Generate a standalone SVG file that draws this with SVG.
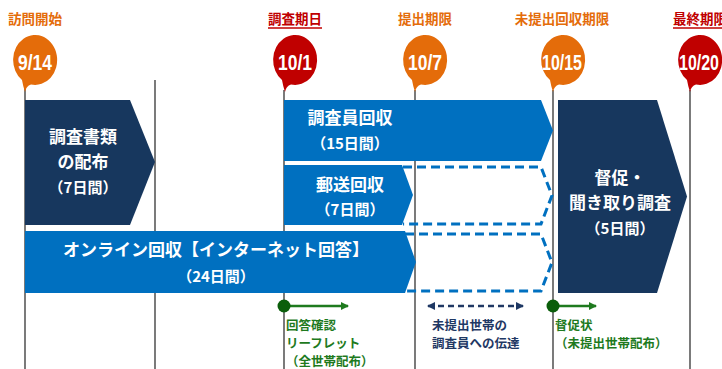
<svg xmlns="http://www.w3.org/2000/svg" width="722" height="369" viewBox="0 0 722 369">
<style>
.jp{font-family:"Noto Sans CJK JP","Noto Sans",sans-serif;font-weight:bold}
.top{font-size:13.5px;text-anchor:middle}
.org{fill:#E46C0A}
.red{fill:#C00000}
.bal{font-family:"Liberation Sans",Arial,sans-serif;font-weight:bold;font-size:22px;fill:#fff;text-anchor:middle}
.wt{fill:#fff;text-anchor:middle}
.big{font-size:17px}
.sm{font-size:15px}
.grn{fill:#1E7A1E;font-size:12.5px}
.nav{fill:#1F3864;font-size:12.5px}
.vline{stroke:#222;stroke-width:1.2}
.navy{fill:#17375E}
.blue{fill:#0070C0}
.dash{fill:none;stroke:#0070C0;stroke-width:3;stroke-dasharray:9 5}
</style>
<defs>
<marker id="ga" markerWidth="8" markerHeight="8" refX="7" refY="4" orient="auto" markerUnits="userSpaceOnUse"><path d="M0,0 L8,4 L0,8 Z" fill="#1E7A1E"/></marker>
<marker id="na" markerWidth="8" markerHeight="8" refX="7" refY="4" orient="auto-start-reverse" markerUnits="userSpaceOnUse"><path d="M0,0 L8,4 L0,8 Z" fill="#1F3864"/></marker>
</defs>

<g id="connectors">
<line class="vline" x1="25" y1="88" x2="25" y2="369"/>
<line class="vline" x1="155" y1="80" x2="155" y2="369"/>
<line class="vline" x1="284" y1="90" x2="284" y2="369"/>
<line class="vline" x1="415" y1="90" x2="415" y2="369"/>
<line class="vline" x1="553" y1="90" x2="553" y2="369"/>
<line class="vline" x1="690" y1="90" x2="690" y2="369"/>
<line x1="284" y1="306" x2="348" y2="306" stroke="#1E7A1E" stroke-width="2.5" marker-end="url(#ga)"/>
<line x1="553" y1="306" x2="596" y2="306" stroke="#1E7A1E" stroke-width="2.5" marker-end="url(#ga)"/>
<line x1="428" y1="306" x2="523" y2="306" stroke="#1F3864" stroke-width="2.5" stroke-dasharray="6 4" marker-start="url(#na)" marker-end="url(#na)"/>
</g>

<g id="m914">
<text class="jp top org" x="35" y="24">訪問開始</text>
<path d="M22,80 A22,25 0 1 1 31,84.5 Q26,86 25,92 Q23,86 22,80 Z" fill="#E46C0A"/>
<text class="bal" x="35" y="70" textLength="34" lengthAdjust="spacingAndGlyphs">9/14</text>
</g>
<g id="m101">
<text class="jp top red" x="295" y="24">調査期日</text>
<line x1="268" y1="28" x2="322" y2="28" stroke="#C00000" stroke-width="1.5"/>
<path d="M282,80 A22,25 0 1 1 291,84.5 Q286,86 285,92 Q283,86 282,80 Z" fill="#C00000"/>
<text class="bal" x="295" y="70" textLength="34" lengthAdjust="spacingAndGlyphs">10/1</text>
</g>
<g id="m107">
<text class="jp top org" x="425" y="24">提出期限</text>
<path d="M412,80 A22,25 0 1 1 421,84.5 Q416,86 415,92 Q413,86 412,80 Z" fill="#E46C0A"/>
<text class="bal" x="425" y="70" textLength="34" lengthAdjust="spacingAndGlyphs">10/7</text>
</g>
<g id="m1015">
<text class="jp top org" x="562" y="24">未提出回収期限</text>
<path d="M550,80 A22,25 0 1 1 559,84.5 Q554,86 553,92 Q551,86 550,80 Z" fill="#E46C0A"/>
<text class="bal" x="562" y="70" textLength="40" lengthAdjust="spacingAndGlyphs">10/15</text>
</g>
<g id="m1020">
<text class="jp top red" x="700" y="24">最終期限</text>
<line x1="673" y1="28" x2="722" y2="28" stroke="#C00000" stroke-width="1.5"/>
<path d="M687,80 A22,25 0 1 1 696,84.5 Q691,86 690,92 Q688,86 687,80 Z" fill="#C00000"/>
<text class="bal" x="699" y="70" textLength="40" lengthAdjust="spacingAndGlyphs">10/20</text>
</g>

<g id="distribute">
<path class="navy" d="M25,100 L130,100 L155,162 L130,225 L25,225 Z"/>
<text class="jp wt big" x="83" y="143">調査書類</text>
<text class="jp wt big" x="83" y="168">の配布</text>
<text class="jp wt sm" x="83" y="193">（7日間）</text>
</g>

<g id="chousain">
<path class="blue" d="M284,100 L541,100 L553,130.5 L541,161 L284,161 Z"/>
<text class="jp wt big" x="350" y="124">調査員回収</text>
<text class="jp wt sm" x="350" y="149">（15日間）</text>
</g>

<g id="yuso">
<path class="dash" d="M403,167 L541,167 L552,195.5 L541,224 L403,224"/>
<path class="blue" d="M284,165 L402,165 L413,195 L402,225 L284,225 Z"/>
<text class="jp wt big" x="350" y="191">郵送回収</text>
<text class="jp wt sm" x="350" y="215">（7日間）</text>
</g>

<g id="online">
<path class="dash" d="M405,234 L541,234 L552,262.5 L541,291 L405,291"/>
<path class="blue" d="M25,231 L405,231 L416,262 L405,293 L25,293 Z"/>
<text class="jp wt big" x="216" y="256">オンライン回収【インターネット回答】</text>
<text class="jp wt sm" x="216" y="282">（24日間）</text>
</g>

<g id="tokusoku">
<path class="navy" d="M558,100 L657,100 L687,196.5 L657,293 L558,293 Z"/>
<text class="jp wt big" x="620" y="184">督促・</text>
<text class="jp wt big" x="620" y="209">聞き取り調査</text>
<text class="jp wt sm" x="620" y="234">（5日間）</text>
</g>

<g id="leaflet">
<circle cx="284" cy="306" r="6.5" fill="#0B5E0B"/>
<text class="jp grn" x="286" y="330">回答確認</text>
<text class="jp grn" x="286" y="348">リーフレット</text>
<text class="jp grn" x="286" y="366">（全世帯配布）</text>
</g>

<g id="dentatsu">
<text class="jp nav" x="432" y="330">未提出世帯の</text>
<text class="jp nav" x="432" y="348">調査員への伝達</text>
</g>

<g id="tokusokujo">
<circle cx="553" cy="306" r="6.5" fill="#0B5E0B"/>
<text class="jp grn" x="555" y="330">督促状</text>
<text class="jp grn" x="555" y="348">（未提出世帯配布）</text>
</g>
</svg>
